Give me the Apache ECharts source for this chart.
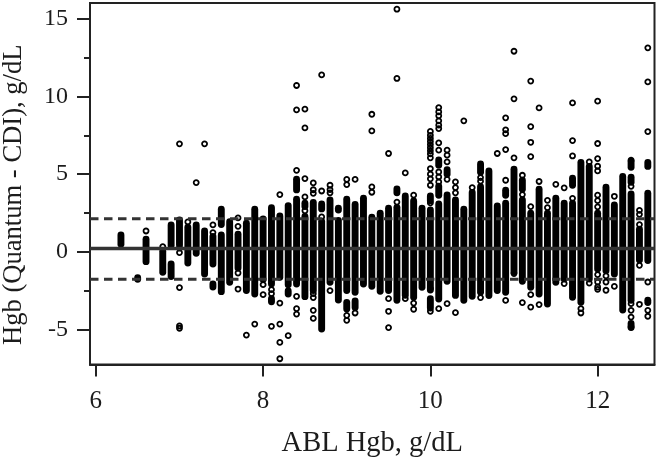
<!DOCTYPE html>
<html>
<head>
<meta charset="utf-8">
<script src="https://cdn.jsdelivr.net/npm/echarts@6/dist/echarts.min.js"></script>
<style>
    html, body { margin: 0; padding: 0; background: #fff; }
    #chart { width: 658px; height: 461px; }
</style>
</head>
<body>
<div id="chart"></div>
<script>
// Reference lines
const meanDiff = 0.22;
const upperLimit = 2.13;
const lowerLimit = -1.75;

// Axis ticks
const xTicks = [6, 8, 10, 12];
const yTicks = [-5, 0, 5, 10, 15];
const yMinorTicks = [-2.5, 2.5, 7.5, 12.5];

// Solid runs of overlapping points: [ABL Hgb, low, high]
const columnRuns = [
    [6.3, 0.5, 1.09], [6.5, -1.75, -1.65], [6.6, -0.62, 0.82], [6.8, -1.3, 0.05],
    [6.9, 0.43, 1.74], [6.9, -1.58, -0.77], [7.0, 0.45, 2.06], [7.1, -0.71, 1.59],
    [7.2, -0.08, 1.74], [7.3, -1.41, 1.35], [7.4, -0.77, 1.0], [7.4, -2.25, -2.05],
    [7.5, 1.76, 2.75], [7.5, -2.55, 1.09], [7.6, -1.95, 1.95], [7.7, -1.03, 1.14],
    [7.8, -2.48, 1.85], [7.9, -2.7, 2.75], [8.0, -1.77, 2.12], [8.1, -2.06, 2.85],
    [8.1, -3.2, -3.0], [8.2, -1.63, 2.32], [8.3, -2.1, 2.98], [8.3, -2.7, -2.5],
    [8.4, 3.99, 4.67], [8.4, -2.06, 3.39], [8.5, 2.92, 3.13], [8.5, -2.87, 2.28],
    [8.6, -2.47, 3.18], [8.7, 2.77, 3.09], [8.7, -4.95, 1.97], [8.8, -1.95, 3.34],
    [8.9, 2.7, 2.81], [8.9, -3.09, 2.02], [9.0, -2.48, 3.39], [9.0, -3.67, -3.25],
    [9.1, -2.59, 3.05], [9.1, -3.56, -3.15], [9.2, -2.06, 3.45], [9.3, -2.2, 2.23],
    [9.4, -2.53, 2.49], [9.5, -2.47, 2.81], [9.6, 3.8, 4.05], [9.6, -3.1, 2.87],
    [9.7, -2.78, 3.6], [9.8, -2.91, 3.28], [9.9, -2.27, 2.81], [10.0, -2.45, 2.7],
    [10.0, -3.6, -3.0], [10.0, 3.3, 3.6], [10.1, 5.58, 5.92], [10.1, 3.65, 4.22],
    [10.1, -3.02, 3.09], [10.2, 5.0, 5.28], [10.2, -1.88, 3.67], [10.3, -2.79, 3.34],
    [10.4, -3.1, 2.75], [10.5, -2.85, 3.82], [10.6, 5.13, 5.66], [10.6, -2.59, 4.2],
    [10.7, -2.8, 5.21], [10.8, -2.48, 2.96], [10.9, 3.65, 3.97], [10.9, -2.59, 3.13],
    [11.0, -1.3, 5.32], [11.1, 4.03, 4.61], [11.1, -1.88, 3.34], [11.2, -2.27, 2.49],
    [11.3, -2.7, 4.03], [11.4, -3.34, 2.49], [11.5, -1.95, 3.45], [11.6, -1.74, 3.13],
    [11.7, 4.29, 4.74], [11.7, -2.91, 3.13], [11.8, -3.23, 5.75], [11.9, -1.74, 5.49],
    [12.0, -1.09, 2.49], [12.1, -1.2, 4.16], [12.2, -1.41, 3.02], [12.3, -3.73, 4.85],
    [12.4, 5.45, 5.83], [12.4, 4.48, 4.8], [12.4, -3.1, 3.73], [12.4, -4.85, -4.6],
    [12.5, -0.51, 1.46], [12.6, 5.5, 5.75], [12.6, -0.55, 3.77], [12.6, -3.25, -3.1]
];

// Individual open circles: [ABL Hgb, difference]
const outlierPoints = [
    [6.6, 1.35], [6.8, 0.35], [7.0, 6.95], [7.0, 0.25], [7.0, -0.04], [7.0, -2.29],
    [7.0, -4.75], [7.0, -4.9], [7.1, 1.93], [7.2, 4.46], [7.3, 6.95], [7.4, 1.74],
    [7.4, 1.25], [7.7, 2.19], [7.7, 1.65], [7.7, -1.35], [7.7, -2.38], [7.8, -5.34],
    [7.9, -4.63], [8.0, -2.1], [8.0, -2.74], [8.1, -2.42], [8.1, -2.68], [8.1, -4.78],
    [8.2, 3.69], [8.2, -3.28], [8.2, -4.63], [8.2, -5.81], [8.2, -6.86], [8.3, -5.38],
    [8.4, 10.7], [8.4, 9.13], [8.4, 5.25], [8.4, -2.85], [8.4, -3.64], [8.4, -3.99],
    [8.5, 9.18], [8.5, 7.97], [8.5, 4.72], [8.5, 3.54], [8.5, 2.65], [8.6, 4.44],
    [8.6, 4.0], [8.6, 3.77], [8.6, -2.68], [8.6, -2.93], [8.6, -3.75], [8.6, -4.27],
    [8.7, 11.38], [8.7, 3.92], [8.7, 2.25], [8.8, 4.29], [8.8, 4.01], [8.8, 3.8],
    [8.8, -2.48], [9.0, 4.66], [9.0, 4.33], [9.0, -4.07], [9.0, -4.39], [9.1, 4.66],
    [9.1, -3.92], [9.3, 8.85], [9.3, 7.78], [9.3, 4.18], [9.3, 3.84], [9.5, 6.33],
    [9.5, -3.0], [9.5, -3.81], [9.5, -4.86], [9.6, 15.6], [9.6, 11.15], [9.6, 3.21],
    [9.7, 5.08], [9.7, -3.0], [9.8, 3.65], [9.8, -3.28], [9.8, -3.68], [10.0, 7.75],
    [10.0, 7.5], [10.0, 7.3], [10.0, 7.1], [10.0, 6.9], [10.0, 6.7], [10.0, 6.5],
    [10.0, 6.3], [10.0, 6.05], [10.0, 5.35], [10.0, 5.0], [10.0, 4.7], [10.0, 4.29],
    [10.0, 3.15], [10.0, -2.35], [10.0, -3.81], [10.1, 9.28], [10.1, 9.0], [10.1, 8.75],
    [10.1, 8.43], [10.1, 8.15], [10.1, 7.93], [10.1, 7.01], [10.1, 6.54], [10.1, 5.14],
    [10.1, 4.82], [10.1, 4.5], [10.1, -3.64], [10.2, 6.54], [10.2, 6.22], [10.2, 5.79],
    [10.2, 4.67], [10.2, -3.32], [10.3, 4.5], [10.3, 4.14], [10.3, 3.8], [10.3, -3.9],
    [10.4, 8.43], [10.5, 4.14], [10.6, 4.78], [10.6, 4.55], [10.6, -2.93], [10.8, 6.33],
    [10.9, 8.62], [10.9, 7.85], [10.9, 7.6], [10.9, 6.58], [10.9, 4.61], [10.9, -3.11],
    [11.0, 12.9], [11.0, 9.84], [11.0, 6.05], [11.0, -1.39], [11.1, 4.93], [11.1, 3.69],
    [11.1, -3.25], [11.2, 10.98], [11.2, 8.06], [11.2, 7.05], [11.2, 6.13], [11.2, 2.92],
    [11.2, -2.74], [11.2, -3.54], [11.3, 9.26], [11.3, 4.53], [11.3, -3.38], [11.4, 3.32],
    [11.4, 2.85], [11.5, 4.35], [11.6, 4.12], [11.6, -2.03], [11.7, 9.58], [11.7, 7.16],
    [11.7, 6.17], [11.7, 3.45], [11.8, -3.64], [11.8, -3.92], [11.9, 5.79], [11.9, -2.0],
    [12.0, 9.69], [12.0, 6.97], [12.0, 6.0], [12.0, 5.51], [12.0, 5.21], [12.0, 3.65],
    [12.0, 3.3], [12.0, 2.9], [12.0, -1.45], [12.0, -1.93], [12.0, -2.25], [12.0, -2.4],
    [12.1, -1.54], [12.1, -1.93], [12.1, -2.46], [12.2, 3.58], [12.2, -2.21], [12.4, 5.9],
    [12.4, 4.22], [12.4, -3.32], [12.4, -3.75], [12.4, -4.18], [12.4, -4.82], [12.5, 2.68],
    [12.5, 2.42], [12.5, 1.76], [12.5, -0.86], [12.5, -3.36], [12.6, 13.12], [12.6, 10.93],
    [12.6, 7.74], [12.6, -1.93], [12.6, -3.75], [12.6, -4.13]
];

const xMin = 5.93;
const xMax = 12.68;
const yMin = -7.23;
const yMax = 16;
const fontName = 'Liberation Serif';
const inkColor = '#1c1c1c';
const lineColor = '#333333';

// Draw one vertical run through the axis scales
function renderColumn(params, api) {
    const top = api.coord([api.value(0), api.value(2)]);
    const bottom = api.coord([api.value(0), api.value(1)]);
    return {
        type: 'line',
        shape: { x1: top[0], y1: top[1], x2: bottom[0], y2: bottom[1] },
        style: { stroke: '#000', lineWidth: 6.9, lineCap: 'round', fill: null }
    };
}

function refLine(value, dashed) {
    return {
        type: 'line',
        symbol: 'none',
        silent: true,
        z: 5,
        data: [[xMin, value], [xMax, value]],
        lineStyle: {
            color: lineColor,
            width: dashed ? 3 : 3.6,
            type: dashed ? [8.5, 5.5] : 'solid'
        }
    };
}

const chart = echarts.init(document.getElementById('chart'), null, { renderer: 'canvas' });

chart.setOption({
    animation: false,
    backgroundColor: '#fff',
    grid: {
        left: 90,
        right: 3.5,
        top: 3,
        bottom: 96.5,
        outerBoundsMode: 'none',
        show: true,
        borderColor: '#222',
        borderWidth: 2,
        backgroundColor: 'transparent'
    },
    xAxis: {
        type: 'value',
        min: xMin,
        max: xMax,
        splitLine: { show: false },
        axisLine: { show: true, onZero: false, lineStyle: { color: '#222', width: 2 } },
        axisTick: { show: true, length: 12, customValues: xTicks, lineStyle: { color: '#222', width: 2 } },
        axisLabel: {
            customValues: xTicks,
            margin: 24,
            color: inkColor,
            fontFamily: fontName,
            fontSize: 25,
            hideOverlap: false
        },
        name: 'ABL Hgb, g/dL',
        nameLocation: 'middle',
        nameGap: 65,
        nameTextStyle: { color: inkColor, fontFamily: fontName, fontSize: 28.5 }
    },
    yAxis: [
        {
            type: 'value',
            min: yMin,
            max: yMax,
            splitLine: { show: false },
            axisLine: { show: true, onZero: false, lineStyle: { color: '#222', width: 2 } },
            axisTick: { show: true, length: 13, customValues: yTicks, lineStyle: { color: '#222', width: 2 } },
            axisLabel: {
                customValues: yTicks,
                margin: 22,
                color: inkColor,
                fontFamily: fontName,
                fontSize: 24
            },
            name: 'Hgb (Quantum - CDI), g/dL',
            nameLocation: 'middle',
            nameGap: 62,
            nameTextStyle: {
                color: inkColor,
                fontFamily: fontName,
                fontSize: 26.6,
                padding: [0, 22, 0, 0]
            }
        },
        {
            // only carries the short in-between ticks
            type: 'value',
            position: 'left',
            min: yMin,
            max: yMax,
            splitLine: { show: false },
            axisLine: { show: false },
            axisTick: { show: true, length: 6, customValues: yMinorTicks, lineStyle: { color: '#222', width: 2 } },
            axisLabel: { show: false }
        }
    ],
    series: [
        {
            type: 'custom',
            renderItem: renderColumn,
            silent: true,
            z: 2,
            clip: true,
            encode: { x: 0, y: [1, 2] },
            data: columnRuns
        },
        {
            type: 'scatter',
            symbol: 'circle',
            symbolSize: 5,
            silent: true,
            z: 3,
            itemStyle: { color: 'transparent', borderColor: '#000', borderWidth: 1.8, opacity: 1 },
            data: outlierPoints
        },
        refLine(meanDiff, false),
        refLine(upperLimit, true),
        refLine(lowerLimit, true)
    ]
});
</script>
</body>
</html>
